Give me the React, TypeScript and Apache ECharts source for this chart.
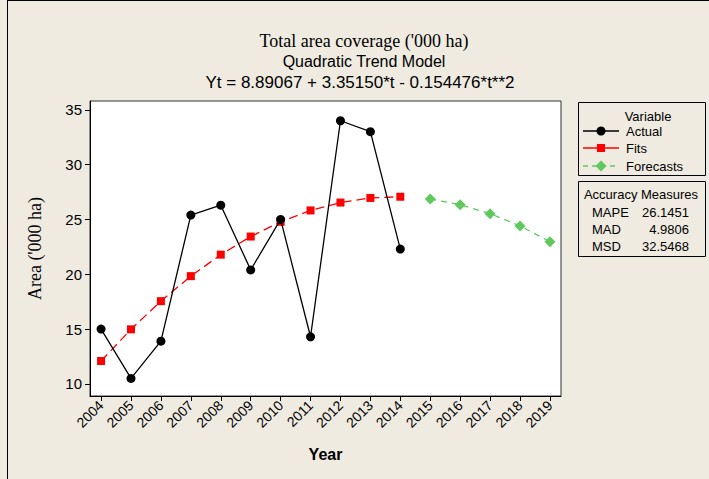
import React, { useEffect, useRef } from "react";
import * as echarts from "echarts";

const tickYears = [2004, 2005, 2006, 2007, 2008, 2009, 2010, 2011, 2012, 2013, 2014, 2015, 2016, 2017, 2018, 2019];
const yTicks = [10, 15, 20, 25, 30, 35];
const actualYears = [2004, 2005, 2006, 2007, 2008, 2009, 2010, 2011, 2012, 2013, 2014];
const actualValues = [15.0, 10.5, 13.9, 25.4, 26.3, 20.4, 25.0, 14.3, 34.0, 33.0, 22.3];
const fitValues = [12.09, 14.98, 17.55, 19.83, 21.79, 23.44, 24.78, 25.82, 26.54, 26.96, 27.07];
const forecastYears = [2015, 2016, 2017, 2018, 2019];
const forecastValues = [26.86, 26.35, 25.53, 24.41, 22.97];
const accuracyNames = ["MAPE", "MAD", "MSD"];
const accuracyValues = ["26.1451", "4.9806", "32.5468"];

const SANS = "Liberation Sans, Arial, sans-serif";
const SERIF = "Liberation Serif, Times New Roman, serif";
const BG = "#EFEBE1";
const GREEN = "#5FC95F";

export default function App() {
  const ref = useRef<HTMLDivElement>(null);
  useEffect(() => {
    if (!ref.current) return;
    const chart = echarts.init(ref.current, null, { renderer: "svg" });
    const pair = (xs: number[], ys: number[]) => xs.map((x, i) => [x, ys[i]]);

    const legendX = 578;
    const legendY = 102;
    const accY = 181;
    const LF = `13px ${SANS}`;
    const graphic: any[] = [
      { type: "line", shape: { x1: 7.5, y1: 0, x2: 7.5, y2: 479 }, style: { stroke: "#000", lineWidth: 1 } },
      { type: "line", shape: { x1: 7, y1: 0.5, x2: 709, y2: 0.5 }, style: { stroke: "#000", lineWidth: 1 } },
      { type: "text", x: 364, y: 41, style: { text: "Total area coverage ('000 ha)", font: `18px ${SERIF}`, fill: "#000", align: "center", verticalAlign: "middle" } },
      { type: "text", x: 364, y: 61, style: { text: "Quadratic Trend Model", font: `16px ${SANS}`, fill: "#000", align: "center", verticalAlign: "middle" } },
      { type: "text", x: 360, y: 82, style: { text: "Yt = 8.89067 + 3.35150*t - 0.154476*t**2", font: `17px ${SANS}`, fill: "#000", align: "center", verticalAlign: "middle" } },
      // legend box
      { type: "rect", shape: { x: legendX + 0.5, y: legendY + 0.5, width: 127, height: 73 }, style: { fill: BG, stroke: "#000", lineWidth: 1 } },
      { type: "text", x: 648, y: 116, style: { text: "Variable", font: LF, fill: "#000", align: "center", verticalAlign: "middle" } },
      { type: "line", shape: { x1: 583, y1: 131, x2: 619, y2: 131 }, style: { stroke: "#000", lineWidth: 1.3 } },
      { type: "circle", shape: { cx: 601, cy: 131, r: 4.5 }, style: { fill: "#000" } },
      { type: "text", x: 626, y: 131, style: { text: "Actual", font: LF, fill: "#000", align: "left", verticalAlign: "middle" } },
      { type: "line", shape: { x1: 583, y1: 148, x2: 619, y2: 148 }, style: { stroke: "#FF0000", lineWidth: 1.3 } },
      { type: "rect", shape: { x: 597, y: 144, width: 8, height: 8 }, style: { fill: "#FF0000" } },
      { type: "text", x: 626, y: 148, style: { text: "Fits", font: LF, fill: "#000", align: "left", verticalAlign: "middle" } },
      { type: "line", shape: { x1: 583, y1: 166, x2: 619, y2: 166 }, style: { stroke: GREEN, lineWidth: 1.3, lineDash: [5, 4] } },
      { type: "polygon", shape: { points: [[601, 160.5], [606.5, 166], [601, 171.5], [595.5, 166]] }, style: { fill: GREEN } },
      { type: "text", x: 626, y: 166, style: { text: "Forecasts", font: LF, fill: "#000", align: "left", verticalAlign: "middle" } },
      // accuracy box
      { type: "rect", shape: { x: legendX + 0.5, y: accY + 0.5, width: 127, height: 75 }, style: { fill: BG, stroke: "#000", lineWidth: 1 } },
      { type: "text", x: 641, y: 194, style: { text: "Accuracy Measures", font: LF, fill: "#000", align: "center", verticalAlign: "middle" } },
    ];
    accuracyNames.forEach((n, i) => {
      const y = 212 + i * 17;
      graphic.push({ type: "text", x: 592, y, style: { text: n, font: LF, fill: "#000", align: "left", verticalAlign: "middle" } });
      graphic.push({ type: "text", x: 689, y, style: { text: accuracyValues[i], font: LF, fill: "#000", align: "right", verticalAlign: "middle" } });
    });

    chart.setOption({
      animation: false,
      backgroundColor: BG,
      grid: { left: 90, top: 101, right: 148, bottom: 83, show: true, backgroundColor: "#fff", borderColor: "#333", borderWidth: 1 },
      xAxis: {
        type: "value",
        min: 2003.63,
        max: 2019.37,
        name: "Year",
        nameLocation: "middle",
        nameGap: 50,
        nameTextStyle: { fontFamily: SANS, fontSize: 16, fontWeight: "bold", color: "#000" },
        axisLine: { show: true, lineStyle: { color: "#000" } },
        axisTick: { show: true, length: 5, lineStyle: { color: "#000" }, customValues: tickYears },
        axisLabel: { customValues: tickYears, rotate: 45, fontFamily: SANS, fontSize: 14, color: "#000", margin: 7, formatter: (v: number) => String(Math.round(v)) },
        splitLine: { show: false },
      },
      yAxis: {
        type: "value",
        min: 8.9,
        max: 35.8,
        name: "Area ('000 ha)",
        nameLocation: "middle",
        nameGap: 46,
        nameRotate: 90,
        nameTextStyle: { fontFamily: SERIF, fontSize: 18, color: "#000" },
        axisLine: { show: true, lineStyle: { color: "#000" } },
        axisTick: { show: true, length: 5, lineStyle: { color: "#000" }, customValues: yTicks },
        axisLabel: { customValues: yTicks, fontFamily: SANS, fontSize: 15, color: "#000", margin: 8 },
        splitLine: { show: false },
      },
      series: [
        {
          name: "Fits",
          type: "line",
          data: pair(actualYears, fitValues),
          symbol: "rect",
          symbolSize: 8,
          itemStyle: { color: "#FF0000" },
          lineStyle: { color: "#FF0000", width: 1.3, type: [9, 5] },
          z: 2,
        },
        {
          name: "Forecasts",
          type: "line",
          data: pair(forecastYears, forecastValues),
          symbol: "diamond",
          symbolSize: 11,
          itemStyle: { color: GREEN },
          lineStyle: { color: GREEN, width: 1.3, type: [6, 5] },
          z: 2,
        },
        {
          name: "Actual",
          type: "line",
          data: pair(actualYears, actualValues),
          symbol: "circle",
          symbolSize: 9,
          itemStyle: { color: "#000" },
          lineStyle: { color: "#000", width: 1.3 },
          z: 3,
        },
      ],
      graphic,
    });
    return () => chart.dispose();
  }, []);
  return <div ref={ref} style={{ position: "fixed", left: 0, top: 0, width: 709, height: 479 }} />;
}
